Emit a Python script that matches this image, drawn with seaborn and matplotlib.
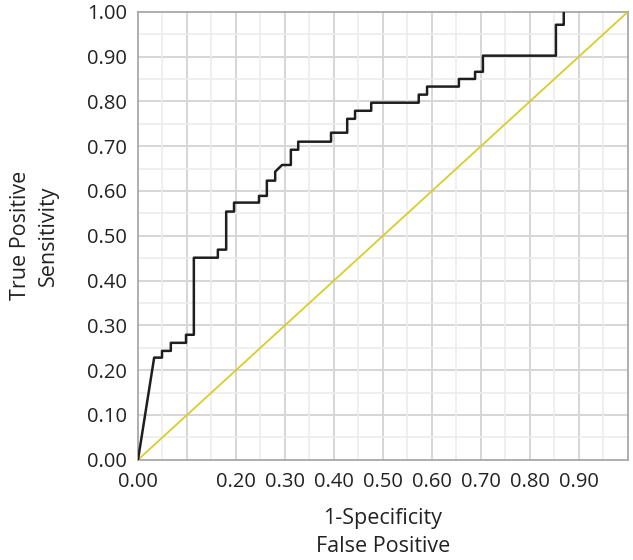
import numpy as np
import pandas as pd
import matplotlib
matplotlib.use("Agg")
import matplotlib.pyplot as plt
from matplotlib.ticker import MultipleLocator, FixedLocator, FixedFormatter
import seaborn as sns

# ROC step curve vertices
fpr = [0.0, 0.033, 0.049, 0.049, 0.067, 0.067, 0.098, 0.098, 0.114, 0.114,
       0.163, 0.163, 0.180, 0.180, 0.196, 0.196, 0.247, 0.247, 0.263, 0.263,
       0.280, 0.280, 0.294, 0.312, 0.312, 0.327, 0.327, 0.394, 0.394, 0.427,
       0.427, 0.443, 0.443, 0.476, 0.476, 0.573, 0.573, 0.590, 0.590, 0.655,
       0.655, 0.688, 0.688, 0.704, 0.704, 0.853, 0.853, 0.869, 0.869]
tpr = [0.0, 0.228, 0.228, 0.243, 0.243, 0.261, 0.261, 0.279, 0.279, 0.451,
       0.451, 0.469, 0.469, 0.554, 0.554, 0.574, 0.574, 0.589, 0.589, 0.623,
       0.623, 0.643, 0.658, 0.658, 0.692, 0.692, 0.710, 0.710, 0.730, 0.730,
       0.761, 0.761, 0.779, 0.779, 0.797, 0.797, 0.815, 0.815, 0.833, 0.833,
       0.850, 0.850, 0.866, 0.866, 0.902, 0.902, 0.971, 0.971, 1.0]
diag = [0.0, 1.0]

x_tick_vals = [0.0, 0.2, 0.3, 0.4, 0.5, 0.6, 0.7, 0.8, 0.9]
x_tick_labels = ["0.00", "0.20", "0.30", "0.40", "0.50", "0.60", "0.70", "0.80", "0.90"]
y_tick_vals = [0.0, 0.1, 0.2, 0.3, 0.4, 0.5, 0.6, 0.7, 0.8, 0.9, 1.0]
y_tick_labels = ["%.2f" % v for v in y_tick_vals]

sns.set_style("white")
plt.rcParams['font.family'] = ['Open Sans', 'DejaVu Sans']

fig = plt.figure(figsize=(6.33, 5.6), dpi=100)
ax = fig.add_axes([0.218, 0.179, 0.774, 0.800])

df = pd.DataFrame({"fpr": fpr, "tpr": tpr})
sns.lineplot(x=[0, 1], y=diag, ax=ax, color="#d9cd2b", linewidth=1.3, zorder=3)
sns.lineplot(data=df, x="fpr", y="tpr", ax=ax, sort=False, estimator=None,
             color="#1e1e1e", linewidth=1.8, zorder=4)

ax.set_xlim(0, 1)
ax.set_ylim(0, 1)

ax.xaxis.set_major_locator(FixedLocator(x_tick_vals))
ax.xaxis.set_major_formatter(FixedFormatter(x_tick_labels))
ax.xaxis.set_minor_locator(MultipleLocator(0.05))
ax.yaxis.set_major_locator(FixedLocator(y_tick_vals))
ax.yaxis.set_major_formatter(FixedFormatter(y_tick_labels))
ax.yaxis.set_minor_locator(MultipleLocator(0.05))

# grid: major every 0.1, minor every 0.05
for v in np.arange(0.1, 1.0, 0.1):
    ax.axvline(v, color="#d6d6d6", linewidth=1.4, zorder=1)
    ax.axhline(v, color="#d6d6d6", linewidth=1.4, zorder=1)
for v in np.arange(0.05, 1.0, 0.1):
    ax.axvline(v, color="#ececec", linewidth=1.2, zorder=1)
    ax.axhline(v, color="#ececec", linewidth=1.2, zorder=1)

for s in ax.spines.values():
    s.set_color("#a8a8a8")
    s.set_linewidth(1.3)

ax.tick_params(axis="both", which="major", length=6, width=1.1, color="#a8a8a8",
               labelsize=14.5, labelcolor="#222222", direction="out")
ax.tick_params(axis="both", which="minor", length=4, width=1.0, color="#a8a8a8",
               direction="out")
ax.tick_params(axis="x", which="major", pad=3)
ax.tick_params(axis="y", which="major", pad=2)

ax.set_xlabel("1-Specificity\nFalse Positive", fontsize=15.5, color="#222222",
              linespacing=1.45, labelpad=11)
ax.set_ylabel("True Positive\nSensitivity", fontsize=15.5, color="#222222",
              linespacing=1.45, labelpad=20)

plt.savefig("out.png", dpi=100)
plt.close()
